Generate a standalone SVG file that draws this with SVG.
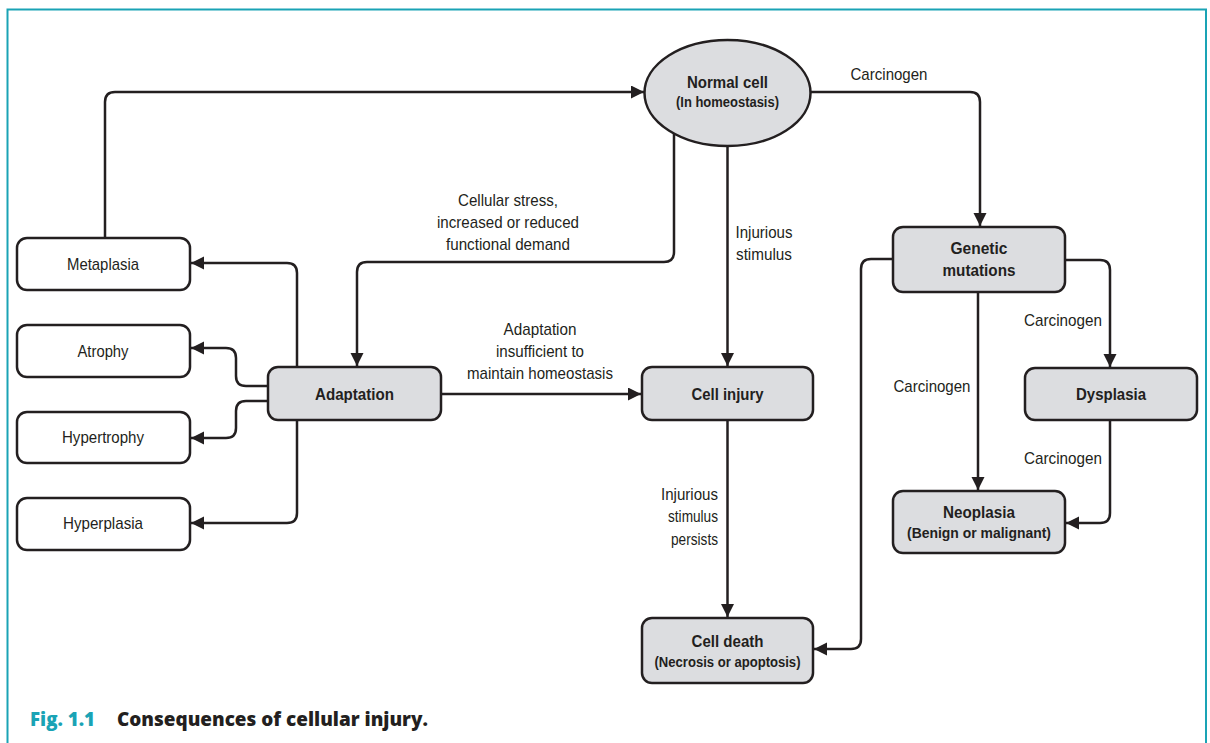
<svg xmlns="http://www.w3.org/2000/svg" width="1210" height="743" viewBox="0 0 1210 743">
  <style>
    .box { fill: #ffffff; stroke: #231f20; stroke-width: 2.5; }
    .key { fill: #dcdde0; stroke: #231f20; stroke-width: 2.5; }
    .lbl { font-family: "Liberation Sans", Arial, sans-serif; font-size: 17px; fill: #231f20; }
    .b { font-weight: bold; }
    .sm { font-size: 14px; }
    .c { text-anchor: middle; }
    .e { text-anchor: end; }
    .wire { fill: none; stroke: #231f20; stroke-width: 2.5; marker-end: url(#tip); }
    .cap { font-family: "Open Sans", Lato, sans-serif; font-weight: 800; font-size: 20px; }
  </style>
  <defs>
    <marker id="tip" markerUnits="userSpaceOnUse" markerWidth="14" markerHeight="14" refX="13" refY="6.5" orient="auto">
      <path d="M0,0 L13,6.5 L0,13 z" fill="#231f20"/>
    </marker>
  </defs>

  <rect width="1210" height="743" fill="#ffffff"/>
  <!-- figure frame (open at the bottom) -->
  <path d="M7.5,743 V9.5 H1206 V743" fill="none" stroke="#1aa3b5" stroke-width="2"/>

  <g id="connectors">
    <path class="wire" d="M105,238 V102 Q105,92 115,92 H644"/>
    <path class="wire" d="M674,132 V252 Q674,262 664,262 H367 Q357,262 357,272 V366"/>
    <path class="wire" d="M727.5,146 V366"/>
    <path class="wire" d="M810,92 H970 Q980,92 980,102 V226"/>
    <path class="wire" d="M297,367 V273 Q297,263 287,263 H191"/>
    <path class="wire" d="M268,386 H246 Q236,386 236,376 V358 Q236,348 226,348 H191"/>
    <path class="wire" d="M268,401 H246 Q236,401 236,411 V428 Q236,438 226,438 H191"/>
    <path class="wire" d="M297,420 V513 Q297,523 287,523 H191"/>
    <path class="wire" d="M441,394 H641"/>
    <path class="wire" d="M727.5,420 V617"/>
    <path class="wire" d="M893,259 H871 Q861,259 861,269 V639 Q861,649 851,649 H814"/>
    <path class="wire" d="M1065,260 H1100 Q1110,260 1110,270 V367"/>
    <path class="wire" d="M978,292 V490"/>
    <path class="wire" d="M1110,420 V513 Q1110,523 1100,523 H1066"/>
  </g>

  <g id="edge-labels">
    <text class="lbl c" x="508" y="206" textLength="100" lengthAdjust="spacingAndGlyphs">Cellular stress,</text>
    <text class="lbl c" x="508" y="228" textLength="142" lengthAdjust="spacingAndGlyphs">increased or reduced</text>
    <text class="lbl c" x="508" y="250" textLength="124" lengthAdjust="spacingAndGlyphs">functional demand</text>
    <text class="lbl c" x="764" y="238" textLength="57" lengthAdjust="spacingAndGlyphs">Injurious</text>
    <text class="lbl c" x="764" y="260" textLength="56" lengthAdjust="spacingAndGlyphs">stimulus</text>
    <text class="lbl c" x="540" y="335" textLength="73" lengthAdjust="spacingAndGlyphs">Adaptation</text>
    <text class="lbl c" x="540" y="357" textLength="88" lengthAdjust="spacingAndGlyphs">insufficient to</text>
    <text class="lbl c" x="540" y="379" textLength="146" lengthAdjust="spacingAndGlyphs">maintain homeostasis</text>
    <text class="lbl e" x="718" y="500" textLength="57" lengthAdjust="spacingAndGlyphs">Injurious</text>
    <text class="lbl e" x="718" y="522" textLength="50" lengthAdjust="spacingAndGlyphs">stimulus</text>
    <text class="lbl e" x="718" y="545" textLength="47" lengthAdjust="spacingAndGlyphs">persists</text>
    <text class="lbl c" x="889" y="80" textLength="77" lengthAdjust="spacingAndGlyphs">Carcinogen</text>
    <text class="lbl c" x="1063" y="326" textLength="78" lengthAdjust="spacingAndGlyphs">Carcinogen</text>
    <text class="lbl c" x="932" y="392" textLength="77" lengthAdjust="spacingAndGlyphs">Carcinogen</text>
    <text class="lbl c" x="1063" y="464" textLength="78" lengthAdjust="spacingAndGlyphs">Carcinogen</text>
  </g>

  <g id="normal-cell">
    <ellipse class="key" cx="727.5" cy="93" rx="83" ry="53"/>
    <text class="lbl b c" x="727.5" y="88" textLength="81" lengthAdjust="spacingAndGlyphs">Normal cell</text>
    <text class="lbl b c sm" x="727.5" y="107" textLength="103" lengthAdjust="spacingAndGlyphs">(In homeostasis)</text>
  </g>

  <g id="metaplasia">
    <rect class="box" x="17" y="238" width="173" height="52" rx="10"/>
    <text class="lbl c" x="103" y="270" textLength="72" lengthAdjust="spacingAndGlyphs">Metaplasia</text>
  </g>
  <g id="atrophy">
    <rect class="box" x="17" y="325" width="173" height="52" rx="10"/>
    <text class="lbl c" x="103" y="357" textLength="51" lengthAdjust="spacingAndGlyphs">Atrophy</text>
  </g>
  <g id="hypertrophy">
    <rect class="box" x="17" y="412" width="173" height="51" rx="10"/>
    <text class="lbl c" x="103" y="443" textLength="82" lengthAdjust="spacingAndGlyphs">Hypertrophy</text>
  </g>
  <g id="hyperplasia">
    <rect class="box" x="17" y="498" width="173" height="52" rx="10"/>
    <text class="lbl c" x="103" y="529" textLength="80" lengthAdjust="spacingAndGlyphs">Hyperplasia</text>
  </g>

  <g id="adaptation">
    <rect class="key" x="268" y="367" width="173" height="53" rx="10"/>
    <text class="lbl b c" x="354.5" y="400" textLength="79" lengthAdjust="spacingAndGlyphs">Adaptation</text>
  </g>

  <g id="cell-injury">
    <rect class="key" x="642" y="367" width="171" height="53" rx="10"/>
    <text class="lbl b c" x="727.5" y="400" textLength="72" lengthAdjust="spacingAndGlyphs">Cell injury</text>
  </g>

  <g id="cell-death">
    <rect class="key" x="642" y="618" width="171" height="65" rx="10"/>
    <text class="lbl b c" x="727.5" y="647" textLength="72" lengthAdjust="spacingAndGlyphs">Cell death</text>
    <text class="lbl b c sm" x="727.5" y="667" textLength="146" lengthAdjust="spacingAndGlyphs">(Necrosis or apoptosis)</text>
  </g>

  <g id="genetic-mutations">
    <rect class="key" x="893" y="227" width="172" height="65" rx="10"/>
    <text class="lbl b c" x="979" y="254" textLength="57" lengthAdjust="spacingAndGlyphs">Genetic</text>
    <text class="lbl b c" x="979" y="276" textLength="73" lengthAdjust="spacingAndGlyphs">mutations</text>
  </g>

  <g id="dysplasia">
    <rect class="key" x="1025" y="368" width="172" height="52" rx="10"/>
    <text class="lbl b c" x="1111" y="400" textLength="70" lengthAdjust="spacingAndGlyphs">Dysplasia</text>
  </g>

  <g id="neoplasia">
    <rect class="key" x="893" y="491" width="172" height="62" rx="10"/>
    <text class="lbl b c" x="979" y="518" textLength="72" lengthAdjust="spacingAndGlyphs">Neoplasia</text>
    <text class="lbl b c sm" x="979" y="538" textLength="144" lengthAdjust="spacingAndGlyphs">(Benign or malignant)</text>
  </g>

  <g id="caption">
    <text class="cap" x="30" y="726" fill="#1aa3b5" textLength="65" lengthAdjust="spacingAndGlyphs">Fig. 1.1</text>
    <text class="cap" x="117" y="726" fill="#231f20" textLength="311" lengthAdjust="spacingAndGlyphs">Consequences of cellular injury.</text>
  </g>
</svg>
